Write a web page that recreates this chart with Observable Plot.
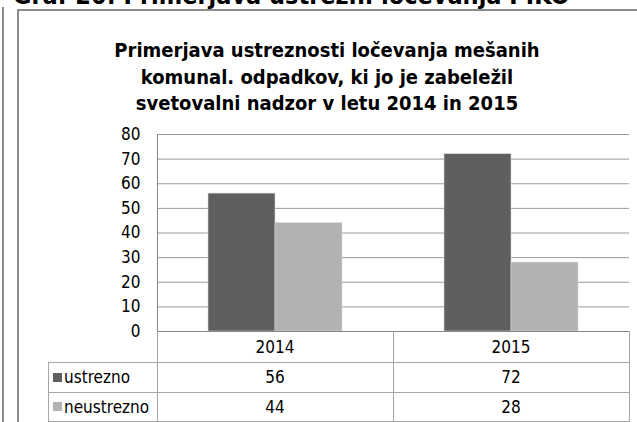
<!DOCTYPE html>
<html><head><meta charset="utf-8">
<script src="https://cdn.jsdelivr.net/npm/d3@7"></script>
<script src="https://cdn.jsdelivr.net/npm/@observablehq/plot@0.6"></script>
<style>
body{margin:0;background:#fff;}
#wrap{position:relative;width:637px;height:422px;overflow:hidden;background:#fff;font-family:"DejaVu Sans Condensed","DejaVu Sans",sans-serif;color:#000;}
#doccap{position:absolute;left:13px;top:-17px;font-size:25px;line-height:26px;font-weight:bold;white-space:nowrap;}
#outer{position:absolute;left:2px;top:7px;width:2px;height:420px;background:#8c8c8c;}
#frame{position:absolute;left:17px;top:9px;width:700px;height:500px;border-left:2px solid #8c8c8c;border-top:2px solid #8c8c8c;}
#title{position:absolute;left:18px;top:37px;width:618px;text-align:center;font-size:20px;line-height:26.5px;font-weight:bold;}
#plot{position:absolute;left:0;top:120px;}
.ln{position:absolute;background:#a6a6a6;}
.cell{position:absolute;display:flex;align-items:center;justify-content:center;font-size:17px;}
.rowlab{position:absolute;display:flex;align-items:center;font-size:17px;}
.sw{display:inline-block;width:9px;height:9px;margin-right:2px;}
</style></head><body>
<div id="wrap">
  <div id="doccap">Graf 20: Primerjava ustrezn. ločevanja PIKO</div>
  <div id="outer"></div>
  <div id="frame"></div>
  <div id="title"></div>
  <div id="plot"></div>
  <div id="tbl"></div>
</div>
<script>
const years = ["2014", "2015"];
const seriesNames = ["ustrezno", "neustrezno"];
const ustrezno = [56, 72];
const neustrezno = [44, 28];
const yTicks = [0, 10, 20, 30, 40, 50, 60, 70, 80];
const seriesColors = ["#5f5f5f", "#b2b2b2"];
const titleLines = [
  "Primerjava ustreznosti ločevanja mešanih",
  "komunal. odpadkov, ki jo je zabeležil",
  "svetovalni nadzor v letu 2014 in 2015"
];
const valuesBySeries = [ustrezno, neustrezno];

const data = years.flatMap((yr, i) =>
  seriesNames.map((s, j) => ({year: yr, series: s, value: valuesBySeries[j][i]})));

document.getElementById("title").innerHTML = titleLines.join("<br>");

const FONT = '"DejaVu Sans Condensed","DejaVu Sans",sans-serif';
const chart = Plot.plot({
  width: 637,
  height: 214,
  marginLeft: 157,
  marginRight: 8,
  marginTop: 14,
  marginBottom: 3,
  style: {fontFamily: FONT, fontSize: "17px", color: "#000", background: "transparent", overflow: "visible"},
  fx: {domain: years, padding: 0, axis: null},
  x: {domain: seriesNames, paddingInner: 0, paddingOuter: 0.76, axis: null},
  y: {domain: [0, 80]},
  color: {domain: seriesNames, range: seriesColors},
  marks: [
    Plot.gridY(yTicks.filter(d => d > 0), {stroke: "#9a9a9a", strokeOpacity: 1}),
    Plot.barY(data, {fx: "year", x: "series", y: "value", fill: "series", inset: 0, stroke: "#d8d8d8", strokeWidth: 0.6}),
    Plot.ruleY([0], {stroke: "#868686"}),
    Plot.axisY(yTicks, {tickSize: 0, tickPadding: 17, fontSize: 17, label: null, fill: "#000"}),
    Plot.frame({anchor: "left", stroke: "#868686", facetAnchor: "left"})
  ]
});
document.getElementById("plot").appendChild(chart);

// data table under the chart
const tbl = document.getElementById("tbl");
const colX = [48, 157, 393, 629];
const rowY = [331, 362, 392, 421];
function line(x, y, w, h) {
  const d = document.createElement("div");
  d.className = "ln";
  Object.assign(d.style, {left: x + "px", top: y + "px", width: w + "px", height: h + "px"});
  tbl.appendChild(d);
}
line(157, 331, 1, 91);
line(393, 331, 1, 91);
line(629, 331, 1, 91);
line(48, 362, 1, 60);
line(48, 362, 582, 1);
line(48, 392, 582, 1);
line(48, 421, 582, 1);
years.forEach((yr, i) => {
  const c = document.createElement("div");
  c.className = "cell";
  Object.assign(c.style, {left: colX[i + 1] + "px", top: rowY[0] + "px", width: (colX[i + 2] - colX[i + 1]) + "px", height: (rowY[1] - rowY[0]) + "px"});
  c.textContent = yr;
  tbl.appendChild(c);
});
seriesNames.forEach((s, j) => {
  const lab = document.createElement("div");
  lab.className = "rowlab";
  Object.assign(lab.style, {left: (colX[0] + 5) + "px", top: rowY[j + 1] + "px", height: (rowY[j + 2] - rowY[j + 1]) + "px"});
  const sw = document.createElement("span");
  sw.className = "sw";
  sw.style.background = seriesColors[j];
  lab.appendChild(sw);
  lab.appendChild(document.createTextNode(s));
  tbl.appendChild(lab);
  years.forEach((yr, i) => {
    const c = document.createElement("div");
    c.className = "cell";
    Object.assign(c.style, {left: colX[i + 1] + "px", top: rowY[j + 1] + "px", width: (colX[i + 2] - colX[i + 1]) + "px", height: (rowY[j + 2] - rowY[j + 1]) + "px"});
    c.textContent = String(valuesBySeries[j][i]);
    tbl.appendChild(c);
  });
});
</script>
</body></html>
